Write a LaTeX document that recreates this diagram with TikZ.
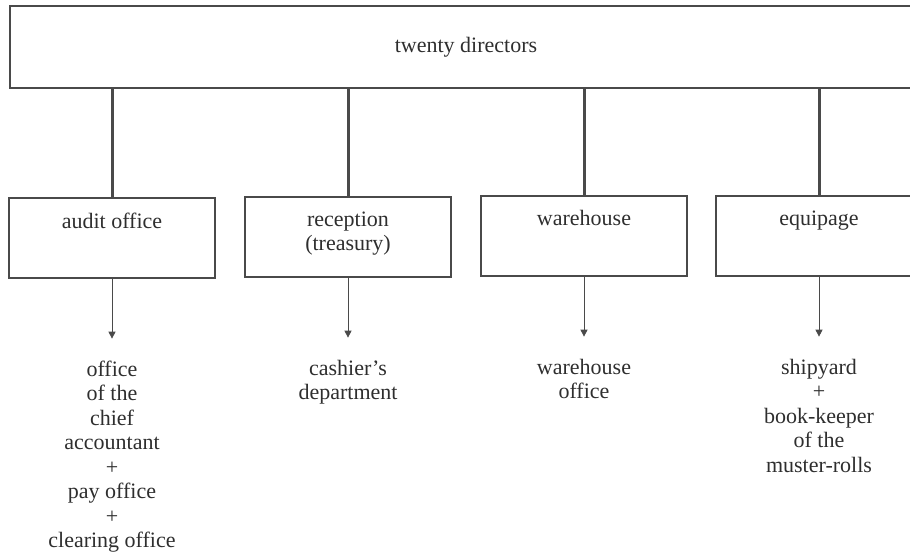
\documentclass[tikz,border=0pt]{standalone}
\usepackage{fontspec}
\setmainfont{Liberation Serif}
\usetikzlibrary{positioning,arrows.meta}
\definecolor{ink}{HTML}{2E2E2E}
\definecolor{rule}{HTML}{4A4A4A}
\begin{document}
\begin{tikzpicture}[x=1pt,y=-1pt,
    every node/.style={font=\fontsize{22}{24.5}\selectfont, text=ink},
    board/.style={draw=rule, line width=1.3pt, minimum width=912pt, minimum height=82pt},
    office/.style={draw=rule, line width=1.3pt, minimum width=206pt, minimum height=80pt},
    head/.style={anchor=north, align=center, inner sep=0pt, yshift=-15pt},
    sub/.style={align=center, inner sep=0pt, below=82pt of #1},
    link/.style={draw=rule, line width=3pt},
    feed/.style={draw=rule, line width=0.8pt, shorten >=22pt,
      -{Triangle[width=7pt,length=7pt]}}]
  \useasboundingbox (0,0) rectangle (910,557);
  % board and its four offices
  \node[board] (dir) at (466,47) {twenty directors};
  \node[office, label={[head]north:audit office}] (audit) at (112,238) {};
  \node[office, label={[head]north:reception\\(treasury)}] (recep) at (348,237) {};
  \node[office, label={[head]north:warehouse}] (store) at (584,236) {};
  \node[office, label={[head]north:equipage}] (equip) at (819,236) {};
  % what each office keeps
  \node[sub=audit] (accts) {office\\of the\\chief\\accountant\\+\\pay office\\+\\clearing office};
  \node[sub=recep] (cash) {cashier's\\department};
  \node[sub=store] (storeoff) {warehouse\\office};
  \node[sub=equip] (yard) {shipyard\\+\\book-keeper\\of the\\muster-rolls};
  \foreach \o in {audit,recep,store,equip}
    \draw[link] (dir.south -| \o) -- (\o);
  \draw[feed] (audit) -- (accts);
  \draw[feed] (recep) -- (cash);
  \draw[feed] (store) -- (storeoff);
  \draw[feed] (equip) -- (yard);
\end{tikzpicture}
\end{document}
